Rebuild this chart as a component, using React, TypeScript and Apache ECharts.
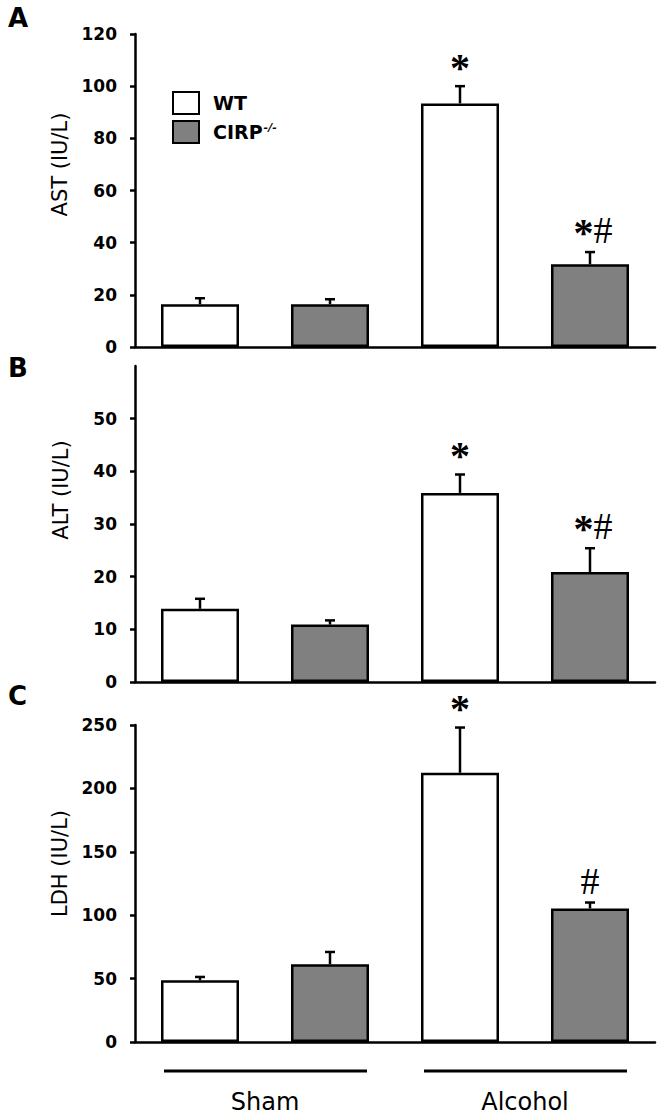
import React, { useEffect, useRef } from "react";
import * as echarts from "echarts";

// ---- data ----
const categories = ["Sham WT", "Sham CIRP-/-", "Alcohol WT", "Alcohol CIRP-/-"];
const groupLabels = ["Sham", "Alcohol"];
const seriesNames = ["WT", "CIRP-/-"];

const astMean = [16.4, 16.4, 93.4, 31.7];
const astErr = [2.3, 1.9, 6.6, 4.7];
const astMarks = ["", "", "*", "*#"];

const altMean = [13.9, 10.9, 35.9, 20.9];
const altErr = [1.9, 0.8, 3.5, 4.5];
const altMarks = ["", "", "*", "*#"];

const ldhMean = [48.7, 61.3, 212.3, 105.3];
const ldhErr = [2.6, 9.7, 35.7, 4.7];
const ldhMarks = ["", "", "*", "#"];

const panelLetters = ["A", "B", "C"];
const axisNames = ["AST (IU/L)", "ALT (IU/L)", "LDH (IU/L)"];
const axisMax = [120, 60, 250];
const axisInterval = [20, 10, 50];
const altTickValues = [0, 10, 20, 30, 40, 50];

const SANS = "DejaVu Sans";
const SERIF = "Liberation Serif";

function toRich(mark: string) {
  return mark
    .split("")
    .map((c) => (c === "*" ? "{ast|*}" : "{hash|#}"))
    .join("");
}

function makeErrRender(marks: string[]) {
  return (params: any, api: any) => {
    const idx = api.value(0);
    const m = api.value(1);
    const e = api.value(2);
    const base = api.coord([idx, m]);
    const top = api.coord([idx, m + e]);
    const x = base[0];
    const children: any[] = [
      { type: "line", shape: { x1: x, y1: base[1], x2: x, y2: top[1] }, style: { stroke: "#000", lineWidth: 2.5 } },
      { type: "line", shape: { x1: x - 5, y1: top[1], x2: x + 5, y2: top[1] }, style: { stroke: "#000", lineWidth: 2.5 } },
    ];
    const mark = marks[params.dataIndex];
    if (mark) {
      children.push({
        type: "text",
        style: {
          text: toRich(mark),
          x: x + (mark.length > 1 ? 3 : 0),
          y: top[1] + 1,
          align: "center",
          verticalAlign: "bottom",
          fontSize: 40,
          fontFamily: SERIF,
          fill: "#000",
          rich: {
            ast: { fontSize: 40, fontWeight: "bold", fontFamily: SERIF, fill: "#000", color: "#000" },
            hash: { fontSize: 38, fontFamily: SERIF, fill: "#000", color: "#000", padding: [0, 0, 4, 0] },
          },
        },
      });
    }
    return { type: "group", children };
  };
}

export default function App() {
  const ref = useRef<HTMLDivElement>(null);

  useEffect(() => {
    document.body.style.margin = "0";
    if (!ref.current) return;
    const chart = echarts.init(ref.current, null, { renderer: "svg" });

    const panels = [
      { mean: astMean, err: astErr, marks: astMarks },
      { mean: altMean, err: altErr, marks: altMarks },
      { mean: ldhMean, err: ldhErr, marks: ldhMarks },
    ];
    const grids = [
      { left: 135, right: 9, top: 34, height: 313 },
      { left: 135, right: 9, top: 366, height: 316 },
      { left: 135, right: 9, top: 725, height: 317 },
    ];
    const namePad = [52, 68, 40];
    const nameGaps = [64, 64, 64];

    const xAxes = grids.map((_, i) => ({
      type: "category",
      gridIndex: i,
      data: categories,
      axisLine: { lineStyle: { color: "#000", width: 2.5 } },
      axisTick: { show: false },
      axisLabel: { show: false },
    }));

    const yAxes = grids.map((_, i) => {
      const ax: any = {
        type: "value",
        gridIndex: i,
        min: 0,
        max: axisMax[i],
        interval: axisInterval[i],
        splitLine: { show: false },
        axisLine: { show: true, lineStyle: { color: "#000", width: 2.5 } },
        axisTick: { show: true, length: 5, lineStyle: { color: "#000", width: 2.5 } },
        axisLabel: { color: "#000", fontFamily: SANS, fontWeight: "bold", fontSize: 17, margin: 18 },
        name: axisNames[i],
        nameLocation: "middle",
        nameRotate: 90,
        nameGap: nameGaps[i],
        nameTextStyle: { color: "#000", fontFamily: SANS, fontSize: 21, padding: [0, 0, 0, namePad[i]] },
      };
      if (i === 1) {
        ax.axisTick.customValues = altTickValues;
        ax.axisLabel.customValues = altTickValues;
      }
      return ax;
    });

    const series: any[] = [];
    panels.forEach((p, i) => {
      series.push({
        type: "bar",
        name: seriesNames[0],
        xAxisIndex: i,
        yAxisIndex: i,
        barWidth: "60%",
        barGap: "-100%",
        data: p.mean.map((v, k) => (k % 2 === 0 ? v : "-")),
        itemStyle: { color: "#ffffff", borderColor: "#000", borderWidth: 2.5 },
      });
      series.push({
        type: "bar",
        name: seriesNames[1],
        xAxisIndex: i,
        yAxisIndex: i,
        barWidth: "60%",
        barGap: "-100%",
        data: p.mean.map((v, k) => (k % 2 === 1 ? v : "-")),
        itemStyle: { color: "#808080", borderColor: "#000", borderWidth: 2.5 },
      });
      series.push({
        type: "custom",
        xAxisIndex: i,
        yAxisIndex: i,
        z: 10,
        encode: { x: 0, y: 1 },
        data: p.mean.map((v, k) => [k, v, p.err[k]]),
        renderItem: makeErrRender(p.marks),
      });
    });

    const letterTops = [5, 355, 683];
    const letters = panelLetters.map((t, i) => ({
      type: "text",
      left: 8,
      top: letterTops[i],
      style: { text: t, fontFamily: SANS, fontWeight: "bold", fontSize: 26, fill: "#000" },
    }));

    chart.setOption({
      animation: false,
      backgroundColor: "#ffffff",
      grid: grids,
      xAxis: xAxes,
      yAxis: yAxes,
      legend: {
        data: seriesNames,
        orient: "vertical",
        left: 167,
        top: 86,
        itemWidth: 26,
        itemHeight: 22,
        itemGap: 5,
        icon: "rect",
        selectedMode: false,
        formatter: (name: string) => (name === "WT" ? "WT" : "CIRP{sup|-/-}"),
        textStyle: {
          color: "#000",
          fontFamily: SANS,
          fontWeight: "bold",
          fontSize: 19,
          padding: [0, 0, 0, 9],
          rich: {
            sup: { fontSize: 11, fontFamily: SANS, fontStyle: "italic", color: "#000", verticalAlign: "top", padding: [0, 0, 10, 1] },
          },
        },
      },
      series,
      graphic: letters,
    });

    // group lines and labels under the bottom panel, from the axis scale
    const px = (k: number) => chart.convertToPixel({ xAxisIndex: 2 } as any, categories[k]) as number;
    const y0 = chart.convertToPixel({ yAxisIndex: 2 } as any, 0) as number;
    const band = px(1) - px(0);
    const hb = band * 0.3;
    const extra: any[] = [];
    groupLabels.forEach((g, gi) => {
      const xa = px(gi * 2) - hb;
      const xb = px(gi * 2 + 1) + hb;
      extra.push({
        type: "line",
        shape: { x1: xa + 3, y1: y0 + 29, x2: xb - 2, y2: y0 + 29 },
        style: { stroke: "#000", lineWidth: 3 },
      });
      extra.push({
        type: "text",
        x: (xa + xb) / 2,
        y: y0 + 60,
        style: { text: g, fontFamily: SANS, fontSize: 24, fill: "#000", align: "center", verticalAlign: "middle" },
      });
    });
    chart.setOption({ graphic: [...letters, ...extra] });

    return () => chart.dispose();
  }, []);

  return <div ref={ref} style={{ width: 664, height: 1118 }} />;
}
